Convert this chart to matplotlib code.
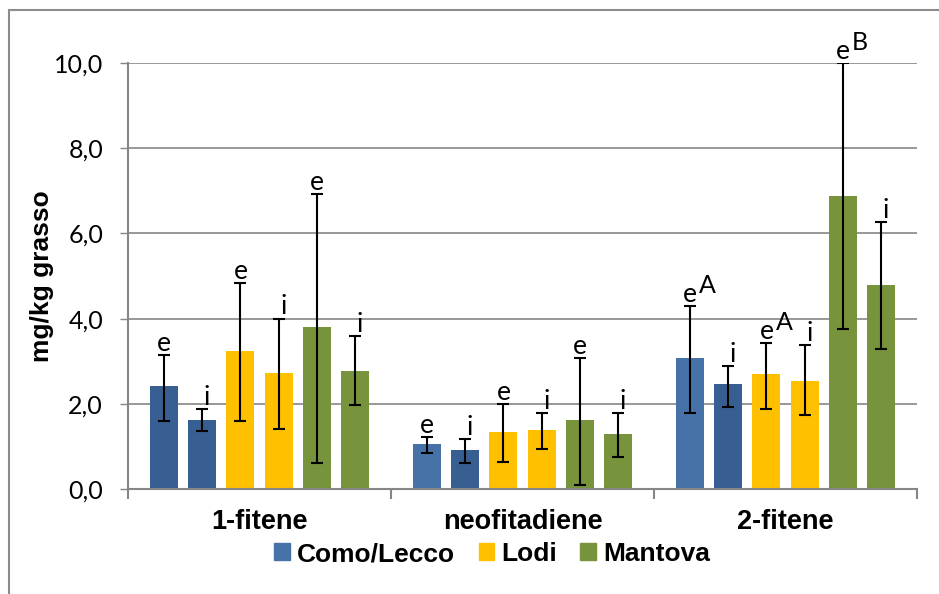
import numpy as np
import matplotlib
matplotlib.use("Agg")
import matplotlib.pyplot as plt
from matplotlib.patches import Rectangle, Patch

categories = ['1-fitene', 'neofitadiene', '2-fitene']
series = ['Como/Lecco e', 'Como/Lecco i', 'Lodi e', 'Lodi i', 'Mantova e', 'Mantova i']
labels = ['e', 'i', 'e', 'i', 'e', 'i']

# mean values and error bar ends, per series, across categories
means = [
    [2.42, 1.06, 3.07],
    [1.62, 0.92, 2.46],
    [3.24, 1.34, 2.70],
    [2.72, 1.38, 2.54],
    [3.80, 1.62, 6.88],
    [2.77, 1.29, 4.79],
]
err_hi = [
    [3.15, 1.22, 4.30],
    [1.88, 1.17, 2.89],
    [4.84, 1.99, 3.43],
    [4.00, 1.78, 3.38],
    [6.92, 3.07, 10.0],
    [3.59, 1.78, 6.27],
]
err_lo = [
    [1.60, 0.85, 1.78],
    [1.36, 0.61, 1.92],
    [1.60, 0.63, 1.88],
    [1.41, 0.94, 1.74],
    [0.61, 0.09, 3.76],
    [1.97, 0.75, 3.29],
]
# superscript letters on 2-fitene
sup = {(0, 2): 'A', (2, 2): 'A', (4, 2): 'B'}

blue_l, blue_d = '#4672A8', '#385F91'
yellow, green = '#FFC000', '#77933C'
colors = [
    [blue_d, blue_l, blue_l],
    [blue_d, blue_d, blue_d],
    [yellow] * 3,
    [yellow] * 3,
    [green] * 3,
    [green] * 3,
]
grey = '#868686'

fig = plt.figure(figsize=(9.39, 5.94), dpi=100)
ax = fig.add_axes([128 / 939, 1 - 489 / 594, 789 / 939, 426 / 594])

x = np.arange(len(categories))
step, width = 0.1452, 0.106
for k in range(6):
    pos = x + (k - 2.5) * step
    m = np.array(means[k])
    yerr = [m - np.array(err_lo[k]), np.array(err_hi[k]) - m]
    ax.bar(pos, m, width, color=colors[k], zorder=2)
    ax.errorbar(pos, m, yerr=yerr, fmt='none', ecolor='black', elinewidth=1.5,
                capsize=4.5, capthick=1.5, zorder=3)
    for j in range(3):
        dx = 3.5 if labels[k] == 'i' else 0
        ax.annotate(labels[k], (pos[j], err_hi[k][j]), xytext=(dx, 3),
                    textcoords='offset points', ha='center', va='baseline',
                    fontsize=19, family='Lato', annotation_clip=False, zorder=4)
        if (k, j) in sup:
            ax.annotate(sup[(k, j)], (pos[j], err_hi[k][j]), xytext=(6.5, 9.5),
                        textcoords='offset points', ha='left', va='baseline',
                        fontsize=18, family='Lato', annotation_clip=False, zorder=4)

ax.set_xlim(-0.5, 2.5)
ax.set_ylim(0, 10)
ax.set_yticks(np.arange(0, 10.1, 2))
ax.set_yticklabels(['0,0', '2,0', '4,0', '6,0', '8,0', '10,0'], family='Lato', fontsize=18)
ax.yaxis.grid(True, color=grey, linewidth=1.2, zorder=0)
ax.set_axisbelow(True)
ax.tick_params(axis='y', length=6, width=1, color=grey, pad=12)

ax.set_xticks([-0.5, 0.5, 1.5, 2.5])
ax.set_xticklabels([])
ax.tick_params(axis='x', length=7, width=1.5, color=grey)
for j, c in enumerate(categories):
    ax.text(x[j], -0.78, c, ha='center', va='center', fontsize=19.5,
            fontweight='bold', family='Liberation Sans')

for s in ['top', 'right']:
    ax.spines[s].set_visible(False)
for s in ['left', 'bottom']:
    ax.spines[s].set_color(grey)
    ax.spines[s].set_linewidth(1.5)

ax.set_ylabel('mg/kg grasso', fontsize=19, fontweight='bold', family='Liberation Sans',
              labelpad=0)

handles = [Patch(color=blue_l), Patch(color=yellow), Patch(color=green)]
fig.legend(handles, ['Como/Lecco', 'Lodi', 'Mantova'], loc='center',
           bbox_to_anchor=(492 / 939, 1 - 554 / 594), ncol=3, frameon=False,
           prop={'family': 'Liberation Sans', 'weight': 'bold', 'size': 19},
           handlelength=0.6, handleheight=0.6, handletextpad=0.25, columnspacing=0.9)

fig.patches.append(Rectangle((9 / 939, -0.1), 1.2, 1.1 - 10 / 594,
                             transform=fig.transFigure, fill=False,
                             edgecolor='#8c8c8c', linewidth=1.5))

fig.savefig('out.png', dpi=100)
